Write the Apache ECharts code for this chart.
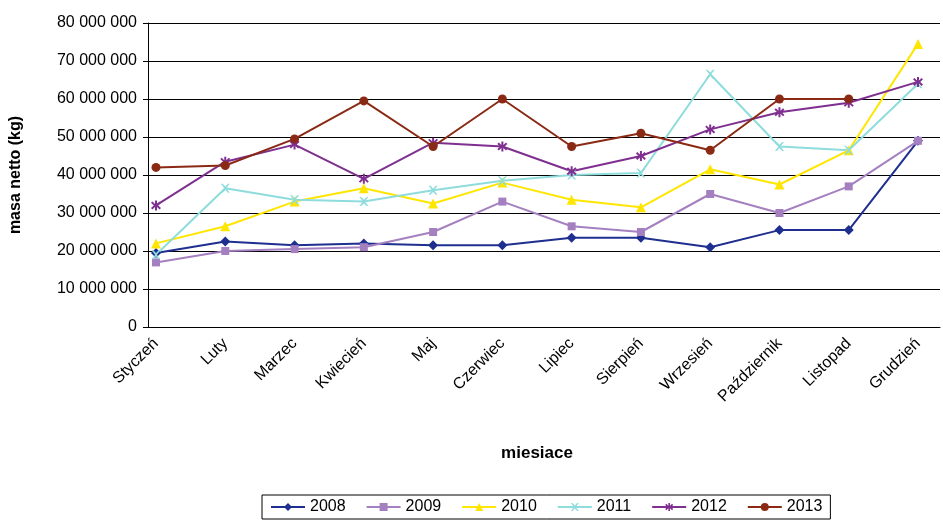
<!DOCTYPE html>
<html><head><meta charset="utf-8">
<script src="https://cdn.jsdelivr.net/npm/echarts@6/dist/echarts.min.js"></script>
<style>html,body{margin:0;background:#fff}#c{width:943px;height:521px}</style>
</head><body><div id="c"></div>
<script>
const months = ['Styczeń','Luty','Marzec','Kwiecień','Maj','Czerwiec','Lipiec','Sierpień','Wrzesień','Październik','Listopad','Grudzień'];
const s2008 = [19.5,22.5,21.5,22,21.5,21.5,23.5,23.5,21,25.5,25.5,49];
const s2009 = [17,20,20.5,21,25,33,26.5,25,35,30,37,49];
const s2010 = [22,26.5,33,36.5,32.5,38,33.5,31.5,41.5,37.5,46.5,74.5];
const s2011 = [19,36.5,33.5,33,36,38.5,40,40.5,66.5,47.5,46.5,64];
const s2012 = [32,43.5,48,39,48.5,47.5,41,45,52,56.5,59,64.5];
const s2013 = [42,42.5,49.5,59.5,47.5,60,47.5,51,46.5,60,60,'-'];

const xPath = 'path://M0,0L2,0L5,3L8,0L10,0L6,5L10,10L8,10L5,7L2,10L0,10L4,5Z';
const starPath = 'path://M4,0H6V3.5L8.6,1L10,2.4L7.2,5L10,7.6L8.6,9L6,6.5V10H4V6.5L1.4,9L0,7.6L2.8,5L0,2.4L1.4,1L4,3.5Z';
const defs = [
  ['2008', s2008, '#1F2F8F', 'diamond', 10],
  ['2009', s2009, '#A580C0', 'rect', 8],
  ['2010', s2010, '#FFE600', 'triangle', 10],
  ['2011', s2011, '#8FDCDC', xPath, 9],
  ['2012', s2012, '#7F2F8F', starPath, 10],
  ['2013', s2013, '#8B2A14', 'circle', 9]
];
const fmt = v => String(v * 1000000).replace(/\B(?=(\d{3})+(?!\d))/g, ' ');
const chart = echarts.init(document.getElementById('c'));
chart.setOption({
  animation: false,
  textStyle: { fontFamily: 'Liberation Sans, Arial' },
  grid: [
    { left: 155, right: 25, top: 23, bottom: 194 },
    { left: 148, right: 3, top: 23, bottom: 194 }
  ],
  legend: {
    bottom: 2, left: 262, itemGap: 20, itemWidth: 34, itemHeight: 10,
    borderColor: '#000', borderWidth: 1, padding: [4, 8], borderRadius: 0,
    textStyle: { fontSize: 16, color: '#000' }
  },
  xAxis: [{
    type: 'category', data: months, boundaryGap: false,
    name: 'miesiace', nameLocation: 'middle', nameGap: 118,
    nameTextStyle: { fontSize: 17, fontWeight: 'bold', color: '#000' },
    axisLine: { show: false },
    axisTick: { show: false },
    axisLabel: { rotate: 45, fontSize: 16, color: '#000', margin: 14 }
  }, {
    gridIndex: 1, type: 'value', min: 0, max: 1, show: true,
    axisLine: { onZero: false, lineStyle: { color: '#000' } },
    axisTick: { show: false }, axisLabel: { show: false }, splitLine: { show: false }
  }],
  yAxis: [{
    type: 'value', min: 0, max: 80, interval: 10, offset: 7,
    name: 'masa netto (kg)', nameLocation: 'middle', nameGap: 125,
    nameTextStyle: { fontSize: 16, fontWeight: 'bold', color: '#000' },
    axisLine: { show: false },
    axisTick: { show: false },
    axisLabel: { fontSize: 16, color: '#000', formatter: fmt, margin: 12 },
    splitLine: { show: false }
  }, {
    gridIndex: 1, type: 'value', min: 0, max: 80, interval: 10,
    axisLine: { show: true, lineStyle: { color: '#000' } },
    axisTick: { show: true, length: 5, lineStyle: { color: '#000' } },
    axisLabel: { show: false },
    splitLine: { lineStyle: { color: '#000', width: 1 } }
  }],
  series: defs.map(([name, data, color, sym, size]) => ({
    name, type: 'line', data, symbol: sym, symbolSize: size, z: 3,
    lineStyle: { color, width: 2 }, itemStyle: { color }
  }))
});
</script></body></html>
